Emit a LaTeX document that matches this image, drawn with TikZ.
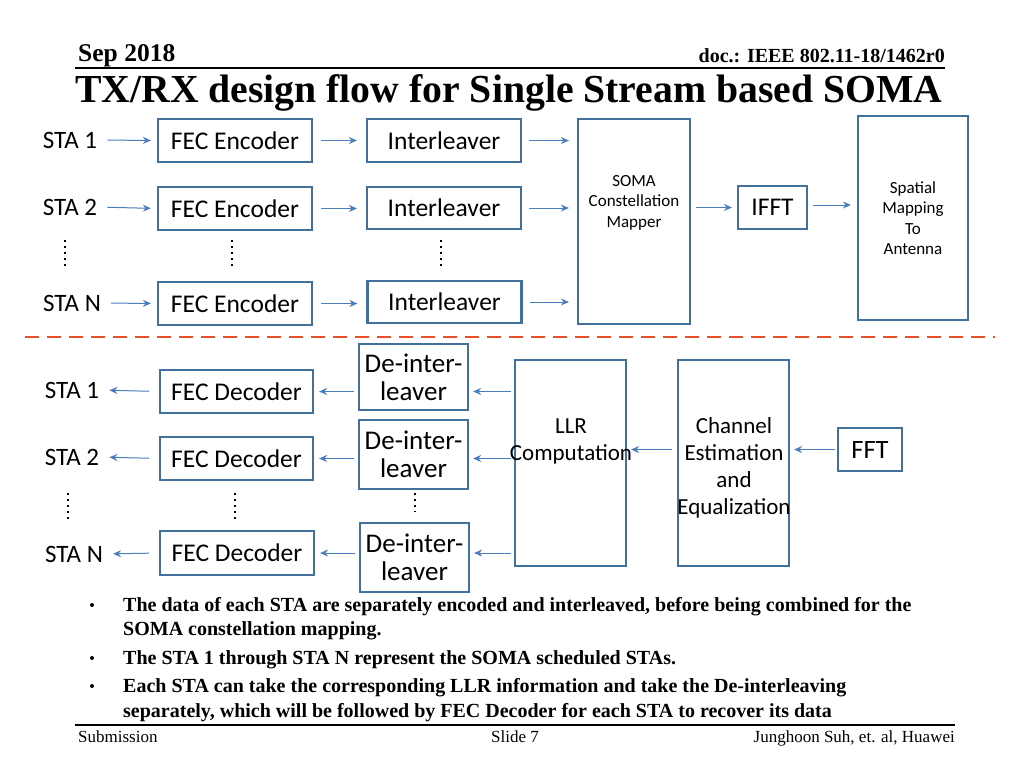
\documentclass[tikz,border=0pt]{standalone}
\usepackage{fontspec}
\setmainfont{Liberation Serif}
\newfontfamily\calfont{Carlito}
\usetikzlibrary{arrows.meta}
\definecolor{boxblue}{HTML}{41719C}
\definecolor{arrblue}{HTML}{4A7EBB}
\definecolor{dashred}{HTML}{E8502A}
\tikzset{
  blk/.style={draw=boxblue, line width=2.2pt, rectangle, inner sep=0pt, align=center,
     font=\calfont\fontsize{25.5}{28}\selectfont},
  deblk/.style={blk, font=\calfont\fontsize{27}{28}\selectfont},
  tallblk/.style={blk},
  talltxt/.style={inner sep=0pt, align=center, font=\calfont\fontsize{23}{27}\selectfont},
  smallblk/.style={blk, font=\calfont\fontsize{17}{20.5}\selectfont},
  sta/.style={inner sep=0pt, font=\calfont\fontsize{25}{28}\selectfont},
  arr/.style={draw=arrblue, line width=1pt, -{Stealth[length=8pt,width=7pt]}},
  vdots/.style={line width=2.4pt, dash pattern=on 2.4pt off 3.6pt, line cap=butt},
  bl/.style={anchor=base west, inner sep=0pt, font=\bfseries\fontsize{20}{22}\selectfont},
  ft/.style={inner sep=0pt, font=\fontsize{17}{20}\selectfont},
}
\begin{document}
\begin{tikzpicture}[x=1pt,y=-1pt]
\useasboundingbox (0,0) rectangle (1024,768);
% header
\node[anchor=base west, inner sep=0pt, font=\bfseries\fontsize{25.5}{26}\selectfont] (hdate) at (78,62) {Sep 2018};
\node[anchor=base east, inner sep=0pt, font=\bfseries\fontsize{20}{22}\selectfont] (hdoc) at (945,63) {doc.: IEEE 802.11-18/1462r0};
\draw[line width=1.2pt] (75,68) -- (945,68);
\node[anchor=base west, inner sep=0pt, font=\bfseries\fontsize{39.7}{44}\selectfont] (title) at (75,102) {TX/RX design flow for Single Stream based SOMA};
% TX
\node[sta] (s1) at (70,140) {STA 1};
\node[sta] (s2) at (70,207) {STA 2};
\node[sta] (sN) at (72,303) {STA N};
\node[blk, minimum width=154pt, minimum height=43pt] (e1) at (235,140.5) {FEC Encoder};
\node[blk, minimum width=154pt, minimum height=43pt] (e2) at (235,208.5) {FEC Encoder};
\node[blk, minimum width=154pt, minimum height=43pt] (eN) at (235,303.5) {FEC Encoder};
\node[blk, minimum width=154pt, minimum height=43pt] (i1) at (444,140.5) {Interleaver};
\node[blk, minimum width=154pt, minimum height=42pt] (i2) at (444,208) {Interleaver};
\node[blk, minimum width=154pt, minimum height=42pt] (iN) at (444.5,302) {Interleaver};
\node[smallblk, minimum width=112pt, minimum height=205pt] (soma) at (634,221.5) {SOMA\\Constellation\\Mapper\\\mbox{}\\\mbox{}};
\node[blk, minimum width=69pt, minimum height=43pt] (ifft) at (772.5,207.5) {IFFT};
\node[smallblk, minimum width=110pt, minimum height=204pt] (spat) at (913,218) {Spatial\\Mapping\\To\\Antenna};
\foreach \r in {1,2,N}{
  \draw[arr, shorten <=10pt, shorten >=6pt] (s\r.east) -- (e\r.west);
  \draw[arr, shorten <=8pt, shorten >=9pt] (e\r.east) -- (e\r.east -| i\r.west);
  \draw[arr, shorten <=7pt, shorten >=8pt] (i\r.east) -- (i\r.east -| soma.west);
}
\draw[arr, shorten <=5pt, shorten >=5pt] (ifft.west -| soma.east) -- (ifft.west);
\coordinate (ifo) at ([yshift=2.5pt]ifft.east);
\draw[arr, shorten <=5pt, shorten >=6pt] (ifo) -- (ifo -| spat.west);
\draw[vdots] (65,240) -- (65,268);
\draw[vdots] (232,240) -- (232,268);
\draw[vdots] (441,240) -- (441,268);
% separator
\draw[dashred, line width=2.4pt, dash pattern=on 14pt off 8pt] (25,337) -- (995,337);
% RX
\node[sta] (r1) at (72,390) {STA 1};
\node[sta] (r2) at (72,457) {STA 2};
\node[sta] (rN) at (74,554) {STA N};
\node[blk, minimum width=153pt, minimum height=43pt] (d1) at (236.5,391.5) {FEC Decoder};
\node[blk, minimum width=153pt, minimum height=43pt] (d2) at (236.5,458.5) {FEC Decoder};
\node[blk, minimum width=154pt, minimum height=44pt] (dN) at (237,553) {FEC Decoder};
\node[deblk, minimum width=109pt, minimum height=66pt] (di1) at (413.5,377) {De-inter-\\leaver};
\node[deblk, minimum width=109pt, minimum height=69pt] (di2) at (413.5,454.5) {De-inter-\\leaver};
\node[deblk, minimum width=109pt, minimum height=69pt] (diN) at (414.5,557.5) {De-inter-\\leaver};
\node[tallblk, minimum width=111pt, minimum height=206pt] (llr) at (570.5,463) {};
\node[talltxt] (llrt) at (571,441) {LLR\\Computation};
\node[tallblk, minimum width=111pt, minimum height=206pt] (chan) at (733.5,463) {};
\node[talltxt] (chant) at (734,468) {Channel\\Estimation\\and\\Equalization};
\node[blk, minimum width=64pt, minimum height=43pt, font=\calfont\fontsize{26.5}{28}\selectfont] (fft) at (870,449.5) {FFT};
\foreach \r in {1,2,N}{
  \draw[arr, shorten <=3pt, shorten >=4pt] (llr.west |- d\r.east) -- (di\r.east |- d\r.east);
  \draw[arr, shorten <=4pt, shorten >=5pt] (di\r.west |- d\r.east) -- (d\r.east);
  \draw[arr, shorten <=10pt, shorten >=10pt] (d\r.west) -- (r\r.east);
}
\draw[arr, shorten <=5pt, shorten >=4pt] (chan.west |- fft.west) -- (llr.east |- fft.west);
\draw[arr, shorten <=2pt, shorten >=4pt] (fft.west) -- (fft.west -| chan.east);
\draw[vdots] (68,493) -- (68,520);
\draw[vdots] (235,493) -- (235,520);
\draw[vdots] (415,493) -- (415,512);
% bullets
\foreach \y in {611,664,692}{ \fill (92,\y-6) circle (2pt); }
\node[bl] (b1) at (123,611) {The data of each STA are separately encoded and interleaved, before being combined for the};
\node[bl] (b2) at (123,635) {SOMA constellation mapping.};
\node[bl] (b3) at (123,664) {The STA 1 through STA N represent the SOMA scheduled STAs.};
\node[bl] (b4) at (123,692) {Each STA can take the corresponding LLR information and take the De-interleaving};
\node[bl] (b5) at (123,717) {separately, which will be followed by FEC Decoder for each STA to recover its data};
% footer
\draw[line width=1.2pt] (75,725) -- (955,725);
\node[ft, anchor=base west] (f1) at (78,742) {Submission};
\node[ft, anchor=base] (f2) at (515,742) {Slide 7};
\node[ft, anchor=base east] (f3) at (955,742) {Junghoon Suh, et. al, Huawei};
\end{tikzpicture}
\end{document}
